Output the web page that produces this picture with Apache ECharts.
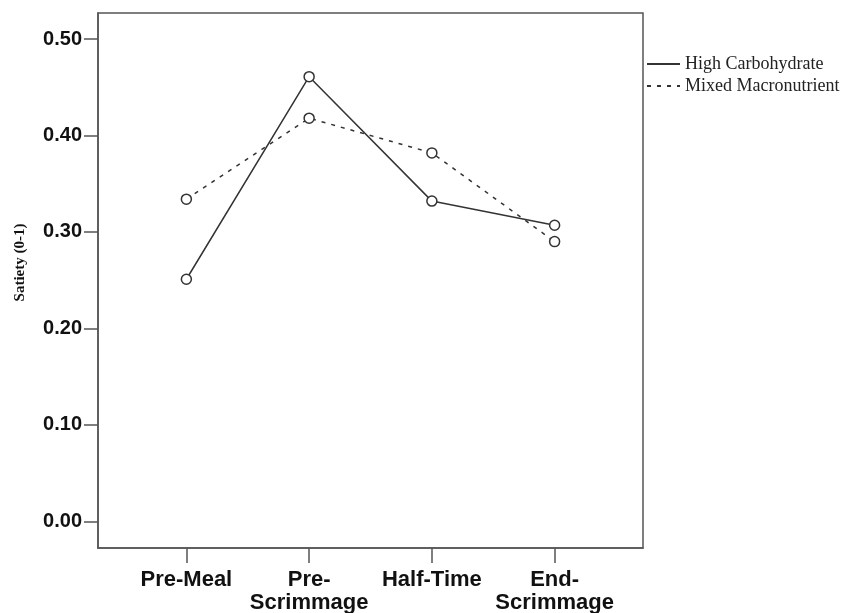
<!DOCTYPE html>
<html>
<head>
<meta charset="utf-8">
<script src="https://cdn.jsdelivr.net/npm/echarts@6/dist/echarts.min.js"></script>
<style>
html,body{margin:0;padding:0;background:#fff;}
#chart{width:846px;height:613px;}
</style>
</head>
<body>
<div id="chart"></div>
<script>
var categories = ['Pre-Meal', 'Pre-\nScrimmage', 'Half-Time', 'End-\nScrimmage'];
var highCarb = [0.251, 0.461, 0.332, 0.307];
var mixedMacro = [0.334, 0.418, 0.382, 0.290];
var yTicks = [0, 0.1, 0.2, 0.3, 0.4, 0.5];
var xTicks = [1, 2, 3, 4];

function toPoints(arr) {
  return arr.map(function (v, i) { return [xTicks[i], v]; });
}

var chart = echarts.init(document.getElementById('chart'));
chart.setOption({
  animation: false,
  backgroundColor: '#fff',
  grid: {
    left: 98, top: 13, right: 203, bottom: 65,
    containLabel: false,
    outerBoundsMode: 'none',
    show: true, borderColor: '#555', borderWidth: 1.5, backgroundColor: 'transparent'
  },
  legend: {
    orient: 'vertical',
    left: 641, top: 50,
    itemWidth: 33, itemHeight: 12, itemGap: 4,
    itemStyle: { opacity: 0 },
    textStyle: { fontFamily: 'Liberation Serif', fontSize: 18, color: '#222' },
    data: ['High Carbohydrate', 'Mixed Macronutrient']
  },
  xAxis: {
    type: 'value',
    min: 0.28, max: 4.72,
    splitLine: { show: false },
    axisLine: { show: true, onZero: false, lineStyle: { color: '#555', width: 1.5 } },
    axisTick: { show: true, customValues: xTicks, length: 15, lineStyle: { color: '#555', width: 1.5 } },
    axisLabel: {
      customValues: xTicks,
      margin: 20,
      fontFamily: 'Liberation Sans', fontWeight: 'bold', fontSize: 22, lineHeight: 23,
      color: '#111', align: 'center',
      formatter: function (v) { return categories[Math.round(v) - 1]; }
    }
  },
  yAxis: {
    type: 'value',
    min: -0.0276, max: 0.527,
    name: 'Satiety (0-1)',
    nameLocation: 'middle',
    nameGap: 70,
    nameTextStyle: { fontFamily: 'Liberation Serif', fontWeight: 'bold', fontSize: 15, color: '#111', padding: [0, 0, 0, 36] },
    splitLine: { show: false },
    axisLine: { show: true, lineStyle: { color: '#555', width: 1.5 } },
    axisTick: { show: true, customValues: yTicks, length: 14, lineStyle: { color: '#555', width: 1.5 } },
    axisLabel: {
      customValues: yTicks,
      margin: 16,
      fontFamily: 'Liberation Sans', fontWeight: 'bold', fontSize: 20,
      color: '#111',
      formatter: function (v) { return v.toFixed(2); }
    }
  },
  series: [
    {
      name: 'High Carbohydrate',
      type: 'line',
      data: toPoints(highCarb),
      symbol: 'circle', symbolSize: 10,
      itemStyle: { color: '#fff', borderColor: '#333', borderWidth: 1.5 },
      lineStyle: { color: '#333', width: 1.5, type: 'solid' }
    },
    {
      name: 'Mixed Macronutrient',
      type: 'line',
      data: toPoints(mixedMacro),
      symbol: 'circle', symbolSize: 10,
      itemStyle: { color: '#fff', borderColor: '#333', borderWidth: 1.5 },
      lineStyle: { color: '#333', width: 1.5, type: [4, 6] }
    }
  ]
});
</script>
</body>
</html>
